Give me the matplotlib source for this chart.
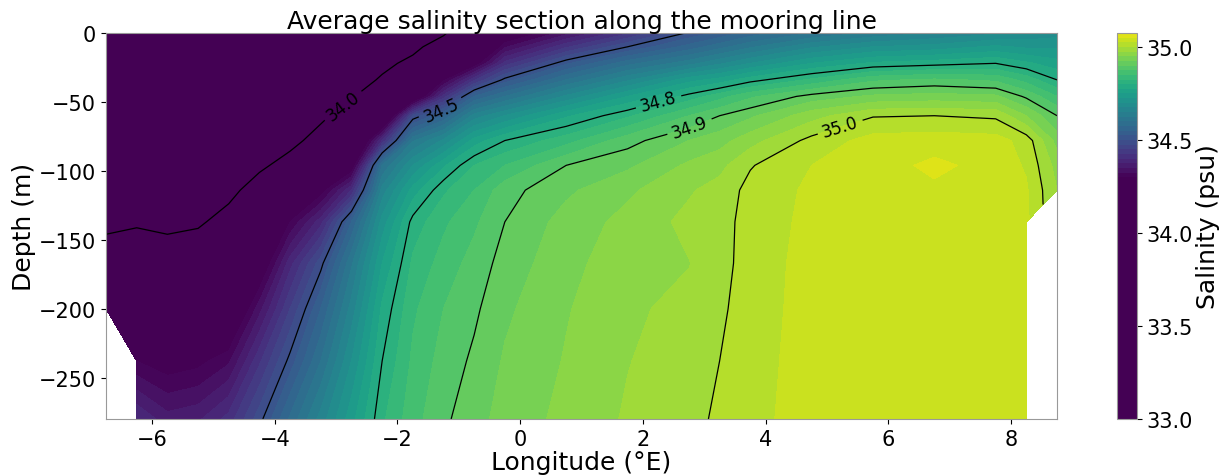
import numpy as np
import matplotlib
matplotlib.use('Agg')
import matplotlib.pyplot as plt

# station longitudes along the section (deg E)
lon = np.array([-6.75, -6.25, -5.75, -5.25, -4.75, -4.25, -3.75, -3.25, -2.75,
                -2.25, -1.75, -1.25, -0.75, -0.25, 0.75, 1.75, 2.75, 3.25,
                3.75, 4.75, 5.75, 6.75, 7.75, 8.25, 8.75])
# depth levels (m, positive down)
depth = np.array([0, 10, 22, 34, 46, 60, 78, 96, 114, 137, 167, 200, 238, 280])

nan = np.nan
# mean salinity profile at each station, surface to bottom (nan = below seabed)
sal_profiles = [
    [33.10, 33.20, 33.32, 33.42, 33.52, 33.62, 33.72, 33.80, 33.88, 33.97, 34.07, 34.17, nan, nan],
    [33.12, 33.22, 33.34, 33.44, 33.54, 33.64, 33.74, 33.82, 33.90, 33.985, 34.09, 34.19, 34.30, 34.40],
    [33.15, 33.25, 33.36, 33.46, 33.56, 33.66, 33.75, 33.83, 33.90, 33.97, 34.07, 34.17, 34.28, 34.36],
    [33.20, 33.30, 33.42, 33.52, 33.62, 33.71, 33.80, 33.87, 33.93, 33.985, 34.08, 34.18, 34.29, 34.37],
    [33.30, 33.40, 33.50, 33.60, 33.69, 33.78, 33.86, 33.92, 33.97, 34.04, 34.13, 34.22, 34.32, 34.41],
    [33.45, 33.55, 33.65, 33.74, 33.81, 33.87, 33.93, 33.98, 34.05, 34.13, 34.25, 34.34, 34.42, 34.49],
    [33.60, 33.68, 33.76, 33.83, 33.88, 33.93, 33.97, 34.04, 34.17, 34.30, 34.39, 34.45, 34.51, 34.58],
    [33.72, 33.79, 33.86, 33.91, 33.95, 33.98, 34.04, 34.17, 34.28, 34.39, 34.49, 34.55, 34.60, 34.66],
    [33.82, 33.88, 33.93, 33.96, 33.99, 34.05, 34.16, 34.26, 34.40, 34.55, 34.62, 34.66, 34.70, 34.74],
    [33.92, 33.96, 33.98, 34.01, 34.08, 34.17, 34.40, 34.60, 34.66, 34.71, 34.75, 34.78, 34.80, 34.82],
    [33.96, 33.98, 34.02, 34.12, 34.22, 34.48, 34.62, 34.70, 34.76, 34.81, 34.83, 34.845, 34.855, 34.865],
    [33.99, 34.04, 34.15, 34.29, 34.41, 34.55, 34.68, 34.77, 34.82, 34.845, 34.86, 34.875, 34.885, 34.895],
    [34.08, 34.17, 34.27, 34.42, 34.55, 34.66, 34.76, 34.825, 34.85, 34.87, 34.885, 34.895, 34.905, 34.915],
    [34.25, 34.32, 34.41, 34.51, 34.60, 34.70, 34.80, 34.85, 34.89, 34.90, 34.91, 34.92, 34.928, 34.935],
    [34.34, 34.42, 34.52, 34.60, 34.68, 34.77, 34.84, 34.90, 34.92, 34.935, 34.942, 34.948, 34.952, 34.957],
    [34.42, 34.50, 34.59, 34.67, 34.75, 34.82, 34.89, 34.92, 34.945, 34.958, 34.965, 34.97, 34.974, 34.978],
    [34.505, 34.56, 34.64, 34.74, 34.81, 34.875, 34.925, 34.955, 34.972, 34.982, 34.974, 34.983, 34.988, 34.993],
    [34.53, 34.59, 34.67, 34.76, 34.84, 34.90, 34.94, 34.967, 34.985, 34.99, 34.99, 34.995, 35.0, 35.004],
    [34.56, 34.62, 34.70, 34.79, 34.87, 34.92, 34.965, 34.998, 35.008, 35.01, 35.012, 35.013, 35.015, 35.017],
    [34.60, 34.67, 34.75, 34.83, 34.91, 34.965, 35.008, 35.025, 35.03, 35.032, 35.034, 35.035, 35.036, 35.037],
    [34.63, 34.70, 34.78, 34.87, 34.93, 34.998, 35.035, 35.038, 35.04, 35.04, 35.04, 35.04, 35.04, 35.04],
    [34.65, 34.71, 34.79, 34.88, 34.935, 35.0, 35.038, 35.056, 35.045, 35.042, 35.042, 35.042, 35.042, 35.042],
    [34.67, 34.73, 34.80, 34.87, 34.93, 34.995, 35.035, 35.04, 35.04, 35.04, 35.04, 35.04, 35.04, 35.04],
    [34.68, 34.72, 34.78, 34.84, 34.895, 34.95, 35.015, 35.022, 35.028, 35.03, 35.03, 35.03, 35.03, 35.03],
    [34.69, 34.72, 34.76, 34.80, 34.85, 34.90, 34.94, 34.965, 34.975, nan, nan, nan, nan, nan],
]

fill_levels = np.arange(33.0, 35.0751, 0.025)
line_levels = [34.0, 34.5, 34.8, 34.9, 35.0]
label_pos = [(-2.85, -55), (-1.3, -54), (2.25, -49), (2.75, -67), (5.2, -66)]
cbar_ticks = [33.0, 33.5, 34.0, 34.5, 35.0]

sal = np.ma.masked_invalid(np.array(sal_profiles).T)

fig = plt.figure(figsize=(12.23, 4.77), dpi=100)
ax = fig.add_axes([0.0867, 0.1195, 0.7776, 0.8092])
cax = fig.add_axes([0.9133, 0.1195, 0.0164, 0.8092])

cf = ax.contourf(lon, -depth, sal, levels=fill_levels, cmap='viridis',
                 vmin=34.3, vmax=35.1)
cs = ax.contour(lon, -depth, sal, levels=line_levels, colors='k', linewidths=0.9)
ax.clabel(cs, fmt='%.1f', fontsize=12, manual=label_pos)

ax.set_ylim(-280, 0)
ax.set_title('Average salinity section along the mooring line', fontsize=18, pad=3)
ax.set_xlabel('Longitude (°E)', fontsize=18, labelpad=1)
ax.set_ylabel('Depth (m)', fontsize=18, labelpad=2)
ax.tick_params(labelsize=15)

cbar = fig.colorbar(cf, cax=cax, ticks=cbar_ticks, format='%.1f')
cbar.set_label('Salinity (psu)', fontsize=18, labelpad=2)
cbar.ax.tick_params(labelsize=15)

for sp in list(ax.spines.values()) + [cbar.outline]:
    sp.set_edgecolor('#999999')

plt.savefig('out.png', dpi=100)
plt.close()
